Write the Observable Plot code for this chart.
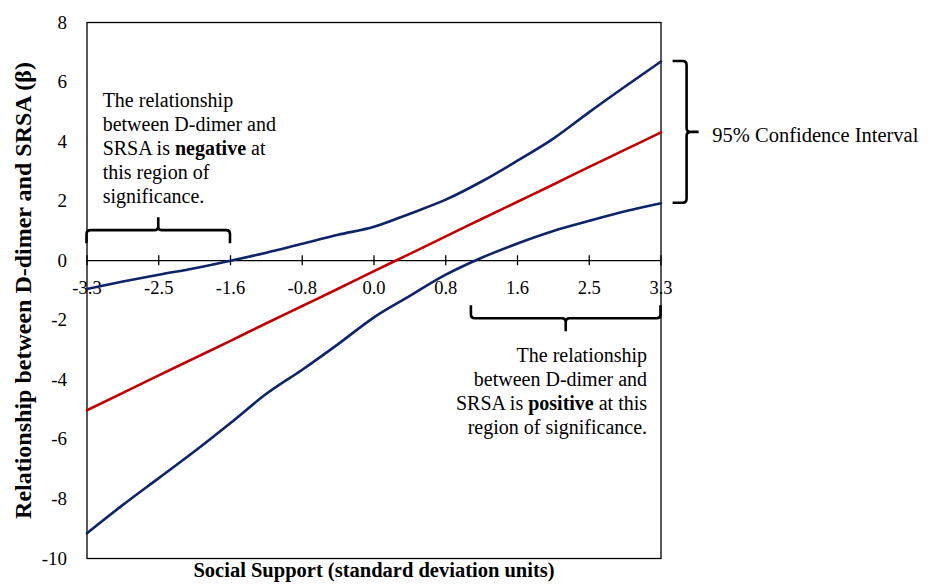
<!DOCTYPE html>
<html>
<head>
<meta charset="utf-8">
<script src="https://cdn.jsdelivr.net/npm/d3@7"></script>
<script src="https://cdn.jsdelivr.net/npm/@observablehq/plot@0.6"></script>
<style>
  html, body { margin: 0; padding: 0; background: #fff; }
  svg text { font-family: "Liberation Serif", "Times New Roman", serif !important; }
</style>
</head>
<body>
<div id="chart"></div>
<script>
// ---- Data ----
const socialSupport = [-3.3, -2.8875, -2.475, -2.0625, -1.65, -1.2375, -0.825, -0.4125, 0,
                       0.4125, 0.825, 1.2375, 1.65, 2.0625, 2.475, 2.8875, 3.3];
const upperCI  = [-0.95, -0.70, -0.47, -0.25, 0.00, 0.27, 0.57, 0.87, 1.14,
                  1.58, 2.05, 2.66, 3.36, 4.10, 4.99, 5.85, 6.69];
const estimate = [-5.02, -4.44, -3.85, -3.27, -2.69, -2.10, -1.52, -0.94, -0.35,
                  0.23, 0.82, 1.40, 1.98, 2.56, 3.15, 3.73, 4.31];
const lowerCI  = [-9.15, -8.20, -7.30, -6.40, -5.45, -4.47, -3.66, -2.80, -1.90,
                  -1.18, -0.47, 0.10, 0.58, 1.00, 1.34, 1.66, 1.93];

const xTickValues = [-3.3, -2.475, -1.65, -0.825, 0, 0.825, 1.65, 2.475, 3.3];
const xTickLabels = ["-3.3", "-2.5", "-1.6", "-0.8", "0.0", "0.8", "1.6", "2.5", "3.3"];
const yTickValues = [-10, -8, -6, -4, -2, 0, 2, 4, 6, 8];

const xTitle = "Social Support (standard deviation units)";
const yTitle = "Relationship between D-dimer and SRSA (β)";

// annotations (data units)
const noteNeg = {x: -3.12, y: 3.8, text: "The relationship\nbetween D-dimer and\nSRSA is negative at\nthis region of\nsignificance."};
const notePos = {x: 3.14, y: -4.34, text: "The relationship\nbetween D-dimer and\nSRSA is positive at this\nregion of significance."};
const noteCI  = {x: 3.89, y: 4.2, text: "95% Confidence Interval"};
const braceNeg = {x1: -3.3, x2: -1.65, y: 1.01};
const bracePos = {x1: 1.12, x2: 3.3, y: -1.95};
const braceCI  = {x: 3.60, y1: 6.69, y2: 1.93};

const rows = (vals, series) => socialSupport.map((x, i) => ({x, y: vals[i], series}));
const navy = "#0d2466";
const red = "#c00000";
const serif = "Liberation Serif";

const plot = Plot.plot({
  width: 933,
  height: 584,
  marginLeft: 86.5,
  marginRight: 272.5,
  marginTop: 22,
  marginBottom: 26,
  style: {fontFamily: serif, fontSize: "18px", color: "#000", background: "#fff"},
  x: {domain: [-3.3, 3.3], axis: null},
  y: {domain: [-10, 8], axis: null},
  marks: [
    Plot.axisY(yTickValues, {tickSize: 0, tickPadding: 20, fontSize: 19, fontFamily: serif, tickFormat: d => String(d), label: null}),
    Plot.frame({stroke: "#000", strokeWidth: 1.3}),
    Plot.ruleY([0], {stroke: "#000", strokeWidth: 1.3}),
    Plot.ruleX(xTickValues, {x: d => d, y1: 0, y2: 0, insetTop: -5, insetBottom: -5, stroke: "#000", strokeWidth: 1.3}),
    Plot.text(xTickValues, {x: d => d, y: 0, text: (d, i) => xTickLabels[i], dy: 27, fontSize: 18.5, fontFamily: serif}),
    Plot.line(rows(lowerCI, "lower"), {x: "x", y: "y", stroke: navy, strokeWidth: 2.6, curve: "monotone-x"}),
    Plot.line(rows(upperCI, "upper"), {x: "x", y: "y", stroke: navy, strokeWidth: 2.6, curve: "monotone-x"}),
    Plot.line(rows(estimate, "est"), {x: "x", y: "y", stroke: red, strokeWidth: 2.6, curve: "monotone-x"}),
    Plot.text([noteNeg], {x: "x", y: "y", text: "text", textAnchor: "start", lineAnchor: "middle", fontSize: 20, lineHeight: 1.2, fontFamily: serif}),
    Plot.text([notePos], {x: "x", y: "y", text: "text", textAnchor: "end", lineAnchor: "middle", fontSize: 20, lineHeight: 1.2, fontFamily: serif}),
    Plot.text([noteCI], {x: "x", y: "y", text: "text", textAnchor: "start", fontSize: 20.5, fontFamily: serif}),
    Plot.text([xTitle], {frameAnchor: "bottom", dy: 18, fontSize: 20.5, fontWeight: "bold", fontFamily: serif}),
    Plot.text([yTitle], {frameAnchor: "left", textAnchor: "middle", rotate: -90, dx: -64, fontSize: 24, fontWeight: "bold", fontFamily: serif})
  ]
});

document.getElementById("chart").appendChild(plot);

// bold words inside annotation lines
function boldWord(node, word) {
  const t = node.textContent;
  const i = t.indexOf(word);
  if (i < 0) return;
  while (node.firstChild) node.removeChild(node.firstChild);
  node.appendChild(document.createTextNode(t.slice(0, i)));
  const b = document.createElementNS("http://www.w3.org/2000/svg", "tspan");
  b.setAttribute("font-weight", "bold");
  b.textContent = word;
  node.appendChild(b);
  node.appendChild(document.createTextNode(t.slice(i + word.length)));
}
d3.select(plot).selectAll("tspan").each(function() {
  const t = this.textContent;
  if (t.startsWith("SRSA is negative")) boldWord(this, "negative");
  if (t.startsWith("SRSA is positive")) boldWord(this, "positive");
});

// braces
const sx = plot.scale("x"), sy = plot.scale("y");
const X = v => sx.apply(v), Y = v => sy.apply(v);
function hBrace(x1, x2, y, dir) { // dir = -1 tip up, +1 tip down
  const xm = (x1 + x2) / 2, e = -dir * 13, t = dir * 13, r = 4;
  const se = -dir, st = dir;
  return `M${x1},${y + e} L${x1},${y + se * r} Q${x1},${y} ${x1 + r},${y} L${xm - r},${y} Q${xm},${y} ${xm},${y + st * r} L${xm},${y + t}` +
         ` M${xm},${y + st * r} Q${xm},${y} ${xm + r},${y} L${x2 - r},${y} Q${x2},${y} ${x2},${y + se * r} L${x2},${y + e}`;
}
function vBrace(x, y1, y2) { // tip to the right
  const ym = (y1 + y2) / 2, r = 4, e = 14, t = 12;
  return `M${x - e},${y1} L${x - r},${y1} Q${x},${y1} ${x},${y1 + r} L${x},${ym - r} Q${x},${ym} ${x + r},${ym} L${x + t},${ym}` +
         ` M${x + r},${ym} Q${x},${ym} ${x},${ym + r} L${x},${y2 - r} Q${x},${y2} ${x - r},${y2} L${x - e},${y2}`;
}
const g = d3.select(plot).append("g").attr("fill", "none").attr("stroke", "#000").attr("stroke-width", 2.6);
g.append("path").attr("d", hBrace(X(braceNeg.x1), X(braceNeg.x2), Y(braceNeg.y), -1));
g.append("path").attr("d", hBrace(X(bracePos.x1), X(bracePos.x2), Y(bracePos.y), 1));
g.append("path").attr("d", vBrace(X(braceCI.x), Y(braceCI.y1), Y(braceCI.y2)));
</script>
</body>
</html>
